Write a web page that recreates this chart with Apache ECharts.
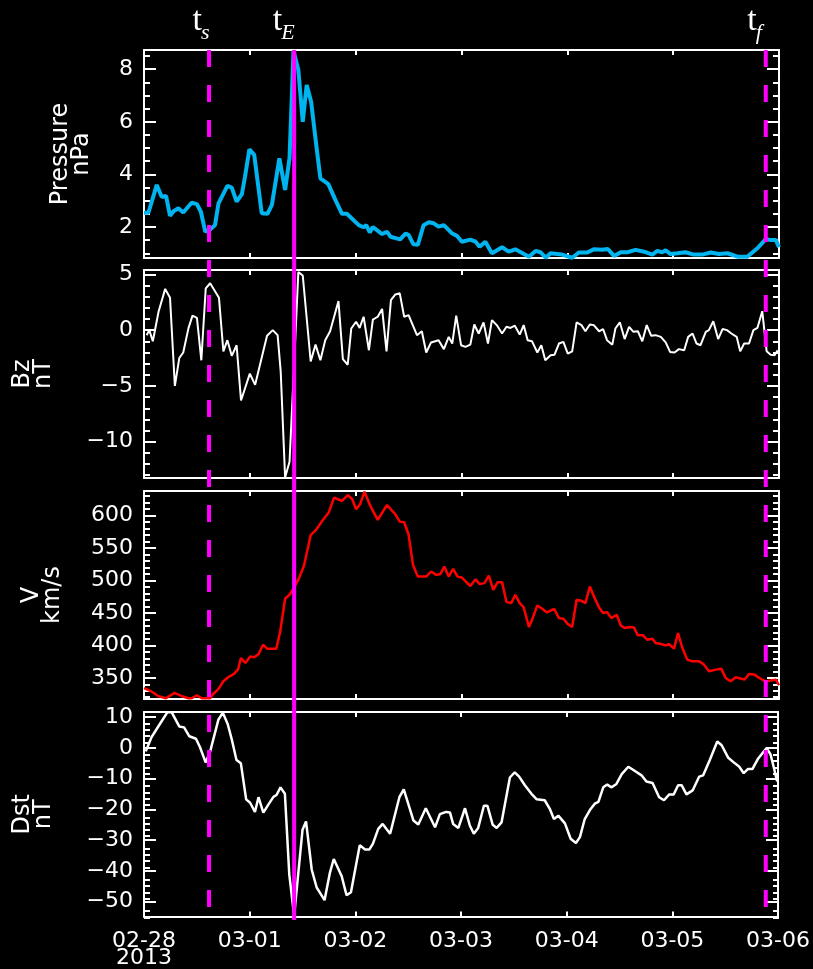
<!DOCTYPE html>
<html>
<head>
<meta charset="utf-8">
<script src="https://cdn.jsdelivr.net/npm/echarts@6.0.0/dist/echarts.min.js"></script>
<style>
html, body { margin: 0; padding: 0; background: #000; }
#chart { width: 813px; height: 969px; }
</style>
</head>
<body>
<div id="chart"></div>
<script>
// solar wind + Dst, hours counted from 2013-02-28 00:00 UT
var myChart = echarts.init(document.getElementById('chart'));

var dayTicks = [0, 24, 48, 72, 96, 120, 144];
var dayLabels = ['02-28\n2013', '03-01', '03-02', '03-03', '03-04', '03-05', '03-06'];

var pressureTime = [0, 1, 2.9, 4, 5, 5.9, 6.7, 7.8, 8.9, 10.8, 12, 12.9, 13.9, 15, 16.1, 16.9, 18.9, 19.9, 21, 22.2, 22.9, 23.9, 25, 26.7, 28, 29, 30.7, 32, 33, 33.9, 35, 36, 36.9, 37.9, 39.2, 40, 41.8, 43.4, 44.9, 46, 48.7, 49.8, 50.4, 51.2, 51.9, 54, 55.1, 55.9, 58.1, 59.3, 60, 61.1, 62.1, 63.4, 64.6, 65.7, 66.8, 68, 69.9, 71, 72.1, 74, 75.2, 76.1, 77.4, 78.9, 81.2, 82.7, 84.2, 87.3, 88.8, 89.9, 91.1, 92.2, 94.8, 97.1, 98.6, 100.5, 102, 103.9, 105.2, 106.6, 108.1, 109.6, 111.5, 113.4, 115.3, 116.4, 117.5, 118.3, 119.4, 121, 122.8, 124.7, 126.6, 128.5, 130.4, 132.3, 134.6, 136.8, 139.1, 141, 142.1, 143.3, 144];
var pressureVal = [2.54, 2.54, 3.6, 3.15, 3.18, 2.42, 2.6, 2.71, 2.55, 2.92, 2.87, 2.58, 1.82, 1.9, 2.07, 2.9, 3.56, 3.5, 2.96, 3.25, 3.91, 4.95, 4.74, 2.52, 2.5, 2.84, 4.61, 3.41, 4.61, 8.7, 7.97, 6.0, 7.4, 6.76, 4.93, 3.85, 3.63, 3.03, 2.5, 2.5, 2.07, 1.99, 2.07, 1.79, 2.0, 1.73, 1.82, 1.63, 1.53, 1.75, 1.7, 1.34, 1.32, 2.07, 2.18, 2.14, 2.01, 2.07, 1.75, 1.66, 1.44, 1.52, 1.44, 1.25, 1.44, 1.0, 1.23, 1.06, 1.15, 0.87, 1.09, 1.04, 0.83, 1.0, 0.95, 0.83, 1.03, 1.03, 1.15, 1.13, 1.16, 0.9, 1.04, 1.04, 1.13, 1.06, 0.95, 1.09, 1.04, 1.11, 0.97, 1.0, 1.04, 0.95, 0.95, 1.03, 0.97, 1.0, 0.87, 0.87, 1.19, 1.54, 1.5, 1.5, 1.23];

var bzTime = [0.6, 1.2, 2, 3.3, 4.8, 5.9, 7, 8, 8.9, 10.1, 11, 12, 13, 14, 15, 17, 18, 18.9, 19.9, 21, 22, 24, 25.2, 27.9, 29.2, 30.3, 31, 32, 33, 33.9, 35, 36, 37.8, 38.9, 40, 41.1, 42.2, 44.1, 45.1, 46.2, 47, 48.1, 48.9, 49.8, 51, 51.9, 53, 54, 55, 56, 57, 58, 59, 60, 61.9, 63, 64, 65.1, 66.8, 68, 69.1, 69.9, 70.8, 71.9, 72.9, 74, 74.9, 75.9, 77, 78, 78.9, 80.1, 81.2, 82.2, 83.1, 84.1, 85.2, 86.1, 87, 88, 89.2, 90.1, 91, 92.2, 93.1, 94.1, 95.1, 96.1, 97.1, 98.1, 99.2, 100.1, 101.1, 102, 103.2, 104.1, 105, 106.2, 106.9, 107.9, 109, 110, 111, 112, 113, 114, 115, 116, 117.2, 118.3, 119.3, 120.3, 121.3, 122.5, 123.4, 124.4, 125.3, 126.2, 127.4, 128.1, 129.1, 130.2, 131.2, 132.2, 133.2, 134.4, 135.2, 136.1, 137.2, 138.2, 139.1, 140.2, 141.2, 142.1, 143, 143.7];
var bzVal = [-0.45, 0, -1.0, 1.65, 3.7, 2.9, -5.0, -2.5, -2.0, 0.2, 1.3, 1.1, -2.7, 3.75, 4.2, 2.9, -1.9, -0.9, -2.3, -1.35, -6.3, -3.9, -4.9, -0.5, 0, -0.45, -3.7, -13.2, -11.8, -4.3, 5.2, 4.9, -2.8, -1.3, -2.7, -0.9, -0.1, 2.6, -2.6, -3.1, 0.15, 0.75, 0.2, 1.2, -1.8, 0.95, 1.2, 1.9, -1.9, 2.7, 3.2, 3.3, 1.2, 1.35, -0.45, -0.1, -2.0, -1.1, -0.9, -1.7, -0.6, -1.2, 1.3, -1.35, -1.5, -1.3, 0.5, -0.3, 0.7, -1.2, 0.9, 0.4, -0.3, 0.3, 0.2, 0.4, -0.4, 0.45, -0.9, -1.0, -2.0, -1.35, -2.7, -2.25, -2.2, -1.2, -1.05, -2.1, -1.9, 0.7, 0.45, -0.1, 0.5, 0.45, -0.1, 0.1, -0.9, -1.3, 0.15, 0.7, -0.8, 0.3, -0.15, -0.1, -1.0, 0.45, -0.5, -0.45, -0.6, -1.1, -1.95, -2.0, -1.7, -1.8, -0.6, -0.3, -1.2, -1.35, -0.15, 0, 0.8, -0.8, 0.1, 0, -0.3, -0.6, -1.9, -1.2, -1.2, 0, 0.2, 1.7, -1.9, -2.2, -2.25, -1.8];

var speedTime = [0, 1.7, 3.3, 5, 6.9, 8.6, 10.1, 10.8, 12, 13.1, 15, 15.7, 16.9, 18, 19.1, 20.4, 21.3, 22, 23, 24.1, 25, 26, 27, 27.9, 30, 30.9, 32, 33, 33.9, 35, 36.3, 37.8, 39, 40.3, 41.9, 43.1, 44.9, 46.2, 47.2, 48.1, 49, 50, 51.3, 53, 55.1, 57, 58, 59, 60, 61, 62.1, 64, 65.1, 66.3, 67.2, 68.1, 69.1, 70.1, 71.1, 72.1, 73.1, 74, 75.2, 76.1, 77.2, 78.2, 79.2, 80.2, 81.2, 82.2, 83.3, 84.2, 85.2, 86.1, 87.3, 88, 89.2, 90.3, 91.4, 93, 94.1, 95.1, 96.1, 97.1, 98.1, 99.2, 100.1, 101.1, 102.2, 103.2, 104.1, 105, 106, 107.2, 108.1, 109, 110.2, 111.1, 112, 113.2, 114.1, 115.3, 116, 117.2, 118.3, 119, 120.2, 121.1, 122.1, 123.2, 124.4, 125.9, 127, 128.1, 129.7, 130.9, 131.9, 133, 134.2, 136.2, 137.2, 138.4, 139.9, 141, 142.1, 143.3, 144];
var speedVal = [334, 329, 321.6, 318.5, 326.7, 321.6, 318.5, 318.5, 323, 318.5, 318.5, 325, 333, 344.7, 350.8, 356, 362.6, 380.5, 372.8, 383, 381.5, 386.7, 401, 394.9, 394.9, 421.6, 471.8, 478, 488, 501, 523, 570, 578, 590.8, 605, 627.7, 622.6, 631.8, 625.7, 609.8, 617.5, 637, 615.4, 593.4, 616.4, 602, 590.8, 589.8, 571, 524, 506, 506, 513.9, 508.7, 509.8, 521.6, 506, 518, 506, 504.6, 497.5, 491.5, 502, 494.4, 496, 507.7, 485.7, 497.5, 497.5, 466.7, 465.2, 478, 465.2, 458.5, 428.2, 439.5, 461.6, 456.4, 450.8, 456.4, 442, 441, 432.8, 428.2, 470.3, 468.7, 465.2, 490.8, 472.8, 458.5, 449.8, 451.3, 442, 447.2, 430.8, 426.7, 428.2, 427.7, 415.4, 415.4, 408.7, 410.3, 403.6, 402, 400, 402, 394.9, 419, 395.9, 378, 375.4, 375.4, 370.3, 360, 362.6, 364.1, 349.8, 344.6, 350.8, 347.2, 356, 354.9, 348.2, 344.6, 345.7, 347.2, 338.5];

var dstTime = [0.4, 1.7, 3.6, 5.3, 6.3, 8, 9.1, 10.3, 11.8, 12.7, 14, 15, 16.9, 17.9, 19, 19.9, 21, 22, 23.2, 24.1, 25.2, 26, 27.1, 28.2, 29.4, 30.1, 31, 32, 33, 34.1, 36, 36.8, 38.1, 39.2, 41, 42.2, 43.1, 44.9, 46, 47, 49, 50.2, 51.2, 52, 53.2, 54.2, 55.9, 58, 59, 61.2, 62.3, 64, 66.1, 67.2, 68.6, 69.5, 70.2, 71.4, 72.9, 74, 74.9, 75.9, 77.2, 78, 79.2, 80.1, 81.2, 83.1, 84.2, 85.2, 86.5, 88, 89.2, 91, 92.2, 93.1, 94.1, 95.6, 96.9, 98.1, 99, 100.1, 101.4, 102.4, 103.2, 104.3, 105.2, 106.2, 107.3, 108.5, 110, 111.5, 113, 114.1, 115.5, 117, 118.1, 119.3, 120.3, 121.3, 122.1, 123.2, 124.6, 126.1, 127, 128.5, 130.2, 131.2, 132.7, 134.2, 135.2, 136.2, 137.2, 138.2, 139.5, 141.4, 142.3, 143, 143.8];
var dstVal = [-1.1, 3.5, 7.8, 11.6, 11.6, 7, 6.7, 3.8, 3, 0.3, -4.7, -1.3, 9.2, 11.5, 7.8, 3, -3.9, -5, -16.7, -17.8, -20.8, -16, -21, -18.5, -15.9, -15.3, -12.8, -14.9, -41.2, -54.6, -26.6, -23.9, -39.6, -45.3, -49.5, -40.7, -36.1, -41.7, -47.9, -46.9, -31.6, -33, -33, -31.1, -26.3, -24.7, -27.9, -16, -13.5, -23.6, -24.9, -19.6, -25.8, -21.5, -20.8, -21, -24.7, -26, -19.6, -25.2, -27.9, -26, -18.8, -18.8, -25, -26, -24.2, -9.6, -7.9, -9.3, -12.1, -14.9, -16.7, -17, -19.9, -23.1, -22, -24.5, -29.5, -30.9, -29, -23.1, -19.9, -18.1, -17.5, -12.8, -11.9, -12.8, -11.7, -8.5, -6.1, -7.5, -8.9, -10.9, -11.4, -16, -17, -15.1, -15.1, -12.1, -12.1, -15.1, -13.8, -9.3, -8.9, -3.9, 2.1, 0.9, -3.2, -5, -6.1, -8.2, -6.8, -6.8, -3.4, 0, -2.1, -6.1, -10.9];

var pressureTicks = [2, 4, 6, 8];
var bzTicks = [-10, -5, 0, 5];
var speedTicks = [350, 400, 450, 500, 550, 600];
var dstTicks = [-50, -40, -30, -20, -10, 0, 10];

// t_s, t_E, t_f
var eventTime = [14.75, 34.05, 141];
var eventName = ['s', 'E', 'f'];
var eventDashed = [true, false, true];

var panels = [
    { title: 'Pressure\nnPa', time: pressureTime, val: pressureVal, ticks: pressureTicks, minor: 0.5, min: 0.82, max: 8.73, color: '#00b4f0', width: 4, gap: 52 },
    { title: 'Bz\nnT', time: bzTime, val: bzVal, ticks: bzTicks, minor: 1, min: -13.25, max: 5.39, color: '#ffffff', width: 2, gap: 90 },
    { title: 'V\nkm/s', time: speedTime, val: speedVal, ticks: speedTicks, minor: 10, min: 317.3, max: 638, color: '#ff0000', width: 2.5, gap: 81 },
    { title: 'Dst\nnT', time: dstTime, val: dstVal, ticks: dstTicks, minor: 2, min: -54.8, max: 11.7, color: '#ffffff', width: 2.5, gap: 90 }
];
var gridTops = [50, 270, 491, 712];
var white = '#ffffff';
var font = 'DejaVu Sans';

function minorValues(p) {
    var out = [];
    for (var k = Math.ceil(p.min / p.minor); k * p.minor <= p.max; k++) {
        var v = +(k * p.minor).toFixed(3);
        if (p.ticks.indexOf(v) < 0) out.push(v);
    }
    return out;
}
function minus(v) {
    return String(v).replace('-', '\u2212');
}

var grids = [], overlayGrids = [];
var xAxes = [], overlayX = [];
var yAxes = [], overlayY = [];
var series = [];

panels.forEach(function (p, i) {
    var rect = { left: 144, right: 34, top: gridTops[i], height: 208, show: false };
    grids.push(rect);
    overlayGrids.push(Object.assign({}, rect));

    var line = { show: true, onZero: false, lineStyle: { color: white, width: 2 } };
    var last = i === panels.length - 1;
    ['bottom', 'top'].forEach(function (pos) {
        xAxes.push({
            type: 'value', gridIndex: i, position: pos, min: 0, max: 144,
            axisLine: line,
            axisTick: { show: true, inside: true, length: 5, customValues: dayTicks, lineStyle: { color: white, width: 2 } },
            axisLabel: {
                show: last && pos === 'bottom', customValues: dayTicks, margin: 16,
                color: white, fontSize: 22, lineHeight: 17, fontFamily: font,
                formatter: function (v) { var k = dayTicks.indexOf(v); return k < 0 ? '' : dayLabels[k]; }
            },
            splitLine: { show: false }
        });
    });
    overlayX.push({ type: 'value', gridIndex: 4 + i, min: 0, max: 144, show: false });

    ['left', 'right'].forEach(function (pos) {
        yAxes.push({
            type: 'value', gridIndex: i, position: pos, min: p.min, max: p.max,
            name: pos === 'left' ? p.title : '', nameLocation: 'middle', nameRotate: 90, nameGap: p.gap,
            nameMoveOverlap: false,
            nameTextStyle: { color: white, fontSize: 24, lineHeight: 21, fontFamily: font },
            axisLine: line,
            axisTick: { show: true, inside: true, length: 12, customValues: p.ticks, lineStyle: { color: white, width: 2 } },
            axisLabel: {
                show: pos === 'left', customValues: p.ticks, margin: 11,
                color: white, fontSize: 22, fontFamily: font, formatter: minus
            },
            splitLine: { show: false }
        });
        overlayY.push({
            type: 'value', gridIndex: 4 + i, position: pos, min: p.min, max: p.max,
            axisLine: { show: false },
            axisTick: { show: true, inside: true, length: 6, customValues: minorValues(p), lineStyle: { color: white, width: 2 } },
            axisLabel: { show: false },
            splitLine: { show: false }
        });
    });

    series.push({
        type: 'line', xAxisIndex: 2 * i, yAxisIndex: 2 * i,
        data: p.time.map(function (t, k) { return [t, p.val[k]]; }),
        showSymbol: false, symbol: 'none', clip: true,
        lineStyle: { color: p.color, width: p.width },
        itemStyle: { color: p.color }
    });
});

var option = {
    backgroundColor: '#000000',
    animation: false,
    grid: grids.concat(overlayGrids),
    xAxis: xAxes.concat(overlayX),
    yAxis: yAxes.concat(overlayY),
    series: series
};
myChart.setOption(option);

// event markers across all panels
var subWidth = { s: 9, E: 14, f: 11 };
var graphics = [];
eventTime.forEach(function (t, k) {
    var x = myChart.convertToPixel({ xAxisIndex: 0 }, t);
    graphics.push({
        type: 'line', z: 100,
        shape: { x1: x, y1: 50, x2: x, y2: eventDashed[k] ? 907 : 920 },
        style: { stroke: '#ff00ff', lineWidth: 4, lineDash: eventDashed[k] ? [17, 18] : null }
    });
    var subX = x + 1 - subWidth[eventName[k]];
    graphics.push({
        type: 'text', z: 100, x: subX + 1, y: 21,
        style: { text: 't', font: '34px "Liberation Serif"', fill: white, align: 'right', textAlign: 'right', verticalAlign: 'middle', textVerticalAlign: 'middle' }
    });
    graphics.push({
        type: 'text', z: 100, x: subX, y: 33,
        style: { text: eventName[k], font: 'italic 22px "Liberation Serif"', fill: white, align: 'left', textAlign: 'left', verticalAlign: 'middle', textVerticalAlign: 'middle' }
    });
});
myChart.setOption({ graphic: graphics });
</script>
</body>
</html>
